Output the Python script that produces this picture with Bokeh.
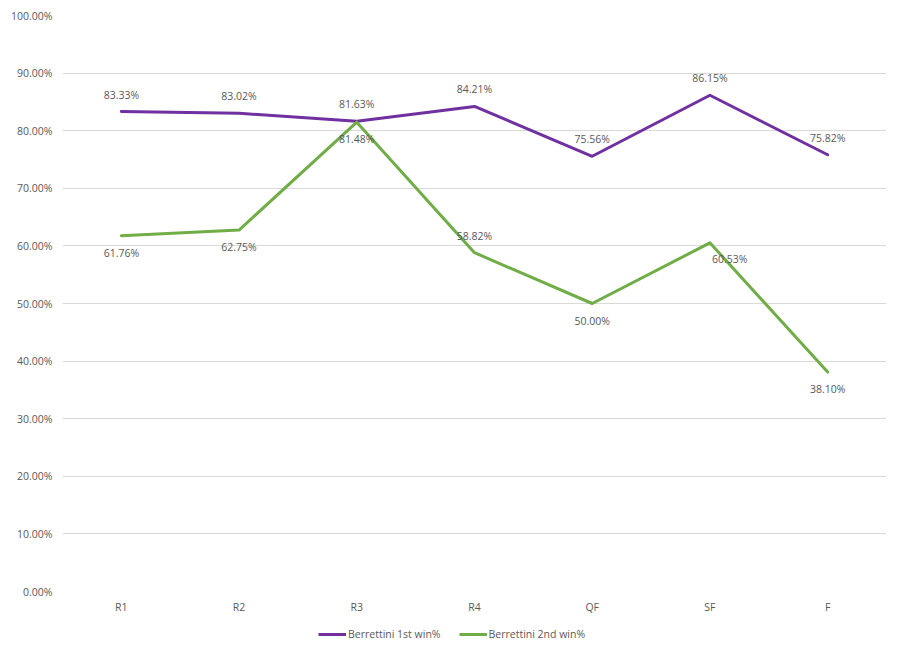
from bokeh.plotting import figure
from bokeh.layouts import column
from bokeh.models import ColumnDataSource, FactorRange, Range1d, NumeralTickFormatter, Legend, LegendItem, FixedTicker
from bokeh.core.properties import value
from bokeh.embed import file_html
from bokeh.resources import INLINE

rounds = ["R1", "R2", "R3", "R4", "QF", "SF", "F"]
first_win = [0.8333, 0.8302, 0.8163, 0.8421, 0.7556, 0.8615, 0.7582]
second_win = [0.6176, 0.6275, 0.8148, 0.5882, 0.5000, 0.6053, 0.3810]
first_name = "Berrettini 1st win%"
second_name = "Berrettini 2nd win%"
y_ticks = [i / 10 for i in range(11)]

# label placement (style): "a" above, "b" below, "r" right
first_pos = ["a"] * 7
second_pos = ["b", "b", "b", "a", "b", "r", "b"]

PURPLE = "#7030A0"
GREEN = "#70AD47"
TXT = "#595959"
FONT = "Open Sans"

p = figure(frame_width=824, frame_height=576, x_range=FactorRange(*rounds), y_range=Range1d(0, 1),
           output_backend="svg", toolbar_location=None,
           min_border_left=62, min_border_right=6, min_border_top=15, min_border_bottom=29)
p.outline_line_color = None
p.background_fill_color = "white"
p.border_fill_color = "white"

p.yaxis.ticker = FixedTicker(ticks=y_ticks)
p.yaxis.formatter = NumeralTickFormatter(format="0.00%")
for ax in (p.xaxis[0], p.yaxis[0]):
    ax.axis_line_color = None
    ax.major_tick_line_color = None
    ax.minor_tick_line_color = None
    ax.major_tick_out = 0
    ax.major_tick_in = 0
    ax.minor_tick_out = 0
    ax.major_label_text_color = TXT
    ax.major_label_text_font = FONT
    ax.major_label_text_font_size = "10.5px"
p.yaxis.major_label_standoff = 10
p.xaxis.major_label_standoff = 8
p.xgrid.grid_line_color = None
p.ygrid.grid_line_color = "#D9D9D9"
p.ygrid.grid_line_width = 1

def offsets(pos):
    xo, yo, al, bl = [], [], [], []
    for s in pos:
        if s == "a":
            xo.append(0); yo.append(-10); al.append("center"); bl.append("bottom")
        elif s == "b":
            xo.append(0); yo.append(10); al.append("center"); bl.append("top")
        else:
            xo.append(2); yo.append(9); al.append("left"); bl.append("top")
    return xo, yo, al, bl

# legend strip below the chart (its lines lie outside its visible y range)
lg = figure(width=900, height=26, x_range=FactorRange(*rounds), y_range=Range1d(2, 3),
            output_backend="svg", toolbar_location=None,
            min_border_left=0, min_border_right=0, min_border_top=0, min_border_bottom=0)
lg.axis.visible = False
lg.grid.visible = False
lg.outline_line_color = None
lg.border_fill_color = "white"
lg.background_fill_color = "white"

items = []
for vals, pos, col, name in [(first_win, first_pos, PURPLE, first_name),
                              (second_win, second_pos, GREEN, second_name)]:
    xo, yo, al, bl = offsets(pos)
    src = ColumnDataSource(dict(x=rounds, y=vals, lab=["%.2f%%" % (v * 100) for v in vals],
                                xo=xo, yo=yo, al=al, bl=bl))
    p.line("x", "y", source=src, line_color=col, line_width=3, line_join="round", line_cap="round")
    p.text("x", "y", text="lab", source=src, x_offset="xo", y_offset="yo", text_align="al",
           text_baseline="bl", text_font=value(FONT), text_font_size="10.5px", text_color=TXT)
    proxy = lg.line("x", "y", source=src, line_color=col, line_width=3)
    items.append(LegendItem(label=name, renderers=[proxy]))

legend = Legend(items=items, orientation="horizontal", location=(256, 5),
                label_text_font=FONT, label_text_font_size="10.5px", label_text_color=TXT,
                glyph_width=28, glyph_height=12, spacing=18, label_standoff=2,
                label_height=12, border_line_color=None, background_fill_alpha=0,
                margin=0, padding=2)
lg.add_layout(legend, "center")

layout = column(p, lg, spacing=0)
open("out.html", "w").write(file_html(layout, INLINE))
